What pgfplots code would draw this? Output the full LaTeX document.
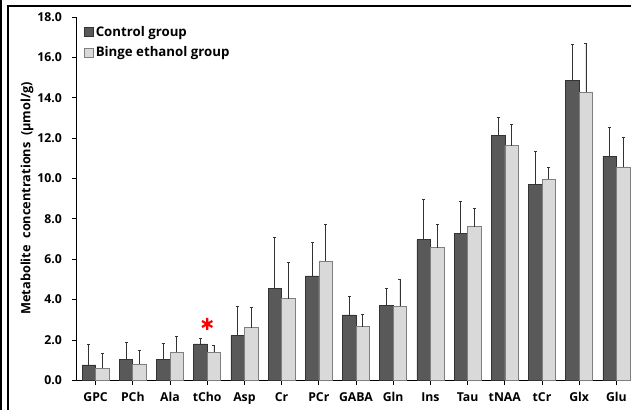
\documentclass[border=0pt]{standalone}
\usepackage{pgfplots}
\pgfplotsset{compat=1.18}
\usepackage{pgfplotstable}
\usepackage{fontspec}
\setmainfont{Open Sans}
\definecolor{ctrl}{HTML}{595959}
\definecolor{binge}{HTML}{D9D9D9}
\definecolor{bingeedge}{HTML}{7F7F7F}
\definecolor{errc}{HTML}{333333}

\pgfplotstableread{
x  c      ce    b      be
0  0.76   1.04  0.59   0.75
1  1.04   0.84  0.81   0.69
2  1.02   0.80  1.39   0.79
3  1.80   0.26  1.39   0.34
4  2.23   1.45  2.61   1.02
5  4.54   2.53  4.04   1.81
6  5.17   1.68  5.91   1.82
7  3.24   0.92  2.66   0.59
8  3.73   0.81  3.68   1.34
9  6.97   2.01  6.57   1.13
10 7.28   1.57  7.61   0.89
11 12.14  0.89  11.63  1.05
12 9.71   1.65  9.96   0.58
13 14.87  1.78  14.27  2.41
14 11.11  1.44  10.57  1.45
}\datatable

\begin{document}
\begin{tikzpicture}
\useasboundingbox (-77bp,-29.7bp) rectangle (554bp,380.3bp);
\draw[line width=2bp] (-76bp,-35bp) -- (-76bp,385bp);
\draw[line width=1.6bp] (-69bp,-35bp) -- (-69bp,374.5bp) -- (560bp,374.5bp);
\begin{axis}[
  at={(0,0)}, anchor=south west,
  scale only axis, width=558bp, height=363.3bp,
  xmin=-0.5, xmax=14.5, ymin=0, ymax=18,
  axis lines*=left,
  axis line style={line width=1bp, black},
  xtick={0,...,14},
  xticklabels={GPC,PCh,Ala,tCho,Asp,Cr,PCr,GABA,Gln,Ins,Tau,tNAA,tCr,Glx,Glu},
  ytick={0,2,...,18},
  yticklabel style={/pgf/number format/.cd, fixed, fixed zerofill, precision=1, assume math mode=true,
    /tikz/.cd, xshift=-7bp},
  xticklabel style={yshift=-4bp},
  tick align=outside, major tick length=4.5bp,
  tick style={line width=0.8bp, black},
  ticklabel style={font=\bfseries\fontsize{12.3}{14}\selectfont},
  legend style={at={(axis description cs:0,1)}, anchor=north west, xshift=6bp, yshift=-6bp,
    draw=none, fill=none, font=\bfseries\fontsize{13.3}{15}\selectfont, row sep=5bp,
    inner sep=1bp},
  legend cell align=left,
  legend image code/.code={\draw[#1,line width=0.6bp] (0bp,-4.5bp) rectangle (9bp,4.5bp);},
  clip=false,
]
\addplot[ybar, bar width=13.5bp, bar shift=-6.75bp, fill=ctrl, draw=black!80, line width=0.6bp,
  error bars/.cd, y dir=plus, y explicit,
  error bar style={line width=0.9bp, errc, xshift=-6.75bp},
  error mark options={rotate=90, mark size=1.5bp, line width=0.9bp, errc}]
  table[x=x, y=c, y error=ce] {\datatable};
\addlegendentry{Control group}
\addplot[ybar, bar width=13.5bp, bar shift=6.75bp, fill=binge, draw=bingeedge, line width=0.6bp,
  error bars/.cd, y dir=plus, y explicit,
  error bar style={line width=0.9bp, errc, xshift=6.75bp},
  error mark options={rotate=90, mark size=1.5bp, line width=0.9bp, errc}]
  table[x=x, y=b, y error=be] {\datatable};
\addlegendentry{Binge ethanol group}
\addplot[only marks, mark=asterisk, red, mark size=6bp, line width=2.2bp, forget plot]
  coordinates {(3,2.79)};
\end{axis}
\node[rotate=90, font=\bfseries\fontsize{12.8}{14}\selectfont] at (-50bp,182bp)
  {Metabolite\ \ concentrations\ \ (μmol/g)};
\end{tikzpicture}
\end{document}
